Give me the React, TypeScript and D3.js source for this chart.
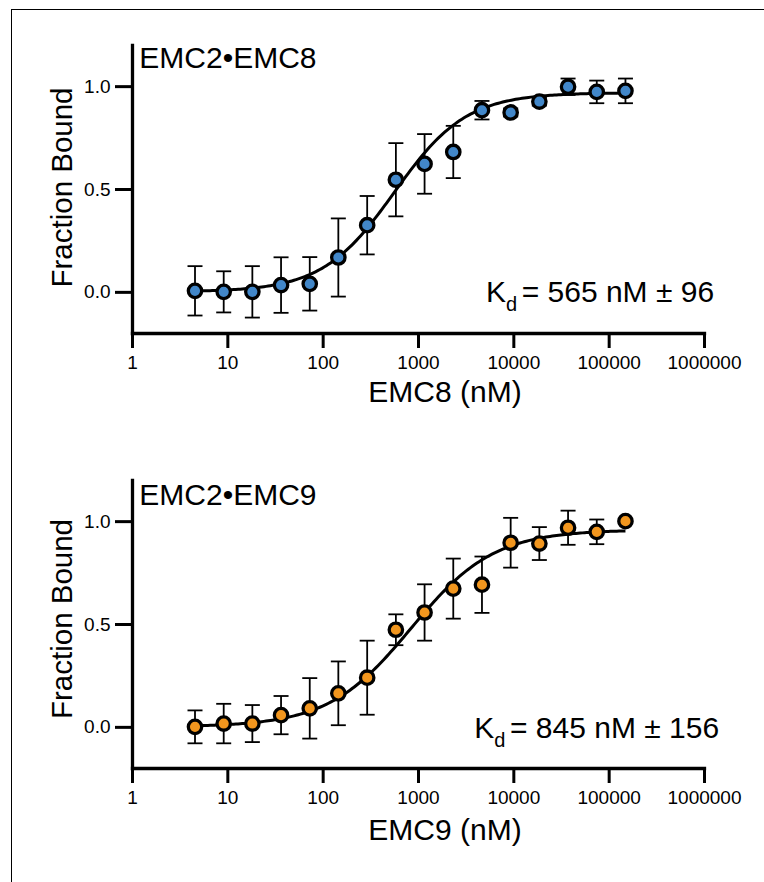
import React, { useRef, useEffect } from "react";
import { select, scaleLog, scaleLinear, axisBottom, axisLeft, line, range, format } from "d3";

// 2-fold titration series (nM)
const concentrations = [
  4.58, 9.16, 18.3, 36.6, 73.2, 146, 293, 586, 1172, 2344, 4688, 9375, 18750,
  37500, 75000, 150000,
];

const emc8Bound = [
  0.005, 0.0, 0.0, 0.033, 0.039, 0.167, 0.324, 0.545, 0.622, 0.68, 0.883,
  0.872, 0.925, 0.997, 0.972, 0.977,
];
const emc8Err = [
  0.12, 0.1, 0.125, 0.135, 0.13, 0.19, 0.142, 0.178, 0.145, 0.127, 0.045, 0.02,
  0.02, 0.04, 0.055, 0.06,
];

const emc9Bound = [
  0.0, 0.016, 0.016, 0.057, 0.09, 0.163, 0.239, 0.472, 0.556, 0.672, 0.691,
  0.895, 0.891, 0.968, 0.948, 1.0,
];
const emc9Err = [
  0.08, 0.096, 0.09, 0.093, 0.147, 0.155, 0.18, 0.075, 0.137, 0.146, 0.137,
  0.121, 0.08, 0.083, 0.06, 0,
];

// fit parameters
const emc8Fit = { kd: 565, top: 0.968, hill: 1.15 };
const emc9Fit = { kd: 845, top: 0.958, hill: 1 };

const xTicks = [1, 10, 100, 1000, 10000, 100000, 1000000];
const yTicks = [0, 0.5, 1.0];

const FONT = '"Liberation Sans", Arial, Helvetica, sans-serif';

const panels = [
  {
    title: "EMC2•EMC8",
    xTitle: "EMC8 (nM)",
    kd: "= 565 nM ± 96",
    values: emc8Bound,
    errors: emc8Err,
    fit: emc8Fit,
    color: "#4287c9",
    yRange: [333, 45],
    titleY: 67.7,
    yLabelY: 187.5,
    xTitleY: 402,
    kdX: 486,
    kdRestX: 521.7,
    kdY: 302.3,
  },
  {
    title: "EMC2•EMC9",
    xTitle: "EMC9 (nM)",
    kd: "= 845 nM ± 156",
    values: emc9Bound,
    errors: emc9Err,
    fit: emc9Fit,
    color: "#f2961e",
    yRange: [768, 480],
    titleY: 505,
    yLabelY: 619,
    xTitleY: 839.5,
    kdX: 474.3,
    kdRestX: 510,
    kdY: 738.3,
  },
];

const App = () => {
  const ref = useRef(null);

  useEffect(() => {
    const svg = select(ref.current);
    svg.selectAll("*").remove();

    // frame
    svg
      .append("rect")
      .attr("x", 11.5)
      .attr("y", 9.5)
      .attr("width", 800)
      .attr("height", 900)
      .attr("fill", "none")
      .attr("stroke", "black")
      .attr("stroke-width", 1);

    const xScale = scaleLog().domain([1, 1000000]).range([132, 704]);

    panels.forEach((p) => {
      const yScale = scaleLinear().domain([-0.2, 1.2]).range(p.yRange);
      const g = svg.append("g");

      // axes
      const xAxis = axisBottom(xScale)
        .tickValues(xTicks)
        .tickFormat(format("d"))
        .tickSize(15)
        .tickSizeOuter(0)
        .tickPadding(7.5);
      const yAxis = axisLeft(yScale)
        .tickValues(yTicks)
        .tickFormat(format(".1f"))
        .tickSize(17)
        .tickSizeOuter(0)
        .tickPadding(4.5);

      const xg = g
        .append("g")
        .attr("transform", `translate(0, ${p.yRange[0]})`)
        .call(xAxis);
      const yg = g
        .append("g")
        .attr("transform", `translate(${xScale.range()[0]}, 0)`)
        .call(yAxis);

      [xg, yg].forEach((ax) => {
        ax.select(".domain")
          .attr("stroke-width", 3.3)
          .attr("stroke-linecap", "square");
        ax.selectAll(".tick line").attr("stroke-width", 3);
        ax.selectAll(".tick text")
          .attr("font-family", FONT)
          .attr("font-size", 19)
          .attr("fill", "black");
        ax.attr("font-family", FONT);
      });

      // error bars
      const bars = g
        .append("g")
        .attr("stroke", "black")
        .attr("stroke-width", 1.8)
        .selectAll("g")
        .data(concentrations.map((c, i) => ({ c, v: p.values[i], e: p.errors[i] })))
        .enter()
        .filter((d) => d.e > 0)
        .append("g");
      bars
        .append("line")
        .attr("x1", (d) => xScale(d.c))
        .attr("x2", (d) => xScale(d.c))
        .attr("y1", (d) => yScale(d.v - d.e))
        .attr("y2", (d) => yScale(d.v + d.e));
      [-1, 1].forEach((s) => {
        bars
          .append("line")
          .attr("x1", (d) => xScale(d.c) - 7.5)
          .attr("x2", (d) => xScale(d.c) + 7.5)
          .attr("y1", (d) => yScale(d.v + s * d.e))
          .attr("y2", (d) => yScale(d.v + s * d.e));
      });

      // fitted binding curve
      const lo = Math.log10(concentrations[0]);
      const hi = Math.log10(concentrations[concentrations.length - 1]);
      const fitPts = range(0, 201).map((k) => {
        const x = Math.pow(10, lo + ((hi - lo) * k) / 200);
        const r = Math.pow(x / p.fit.kd, p.fit.hill);
        return [x, (p.fit.top * r) / (1 + r)];
      });
      g.append("path")
        .datum(fitPts)
        .attr("fill", "none")
        .attr("stroke", "black")
        .attr("stroke-width", 3)
        .attr(
          "d",
          line()
            .x((d) => xScale(d[0]))
            .y((d) => yScale(d[1]))
        );

      // points
      g.selectAll("circle")
        .data(concentrations)
        .enter()
        .append("circle")
        .attr("cx", (d) => xScale(d))
        .attr("cy", (d, i) => yScale(p.values[i]))
        .attr("r", 6.7)
        .attr("fill", p.color)
        .attr("stroke", "black")
        .attr("stroke-width", 3.3);

      // titles
      g.append("text")
        .attr("x", 139.3)
        .attr("y", p.titleY)
        .attr("font-family", FONT)
        .attr("font-size", 30)
        .text(p.title);

      g.append("text")
        .attr("transform", `translate(71.5, ${p.yLabelY}) rotate(-90)`)
        .attr("text-anchor", "middle")
        .attr("font-family", FONT)
        .attr("font-size", 29.5)
        .text("Fraction Bound");

      g.append("text")
        .attr("x", 445)
        .attr("y", p.xTitleY)
        .attr("text-anchor", "middle")
        .attr("font-family", FONT)
        .attr("font-size", 30)
        .text(p.xTitle);

      const kd = g
        .append("text")
        .attr("x", p.kdX)
        .attr("y", p.kdY)
        .attr("font-family", FONT)
        .attr("font-size", 30);
      kd.append("tspan").text("K");
      kd.append("tspan")
        .attr("dy", 8.4)
        .attr("font-size", 20)
        .text("d");
      kd.append("tspan").attr("x", p.kdRestX).attr("y", p.kdY).text(p.kd);
    });
  }, []);

  return (
    <svg
      ref={ref}
      width={764}
      height={882}
      style={{ position: "absolute", left: 0, top: 0, background: "white" }}
    />
  );
};

export default App;
